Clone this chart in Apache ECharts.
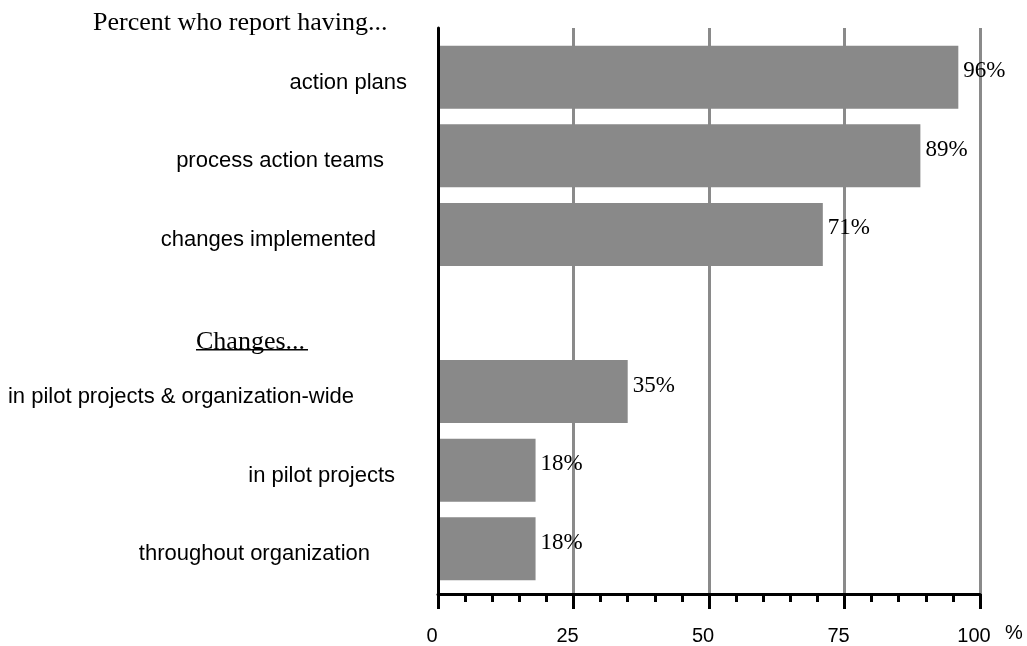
<style>html, body { margin: 0; padding: 0; background: #fff; }</style>
<script src="https://cdn.jsdelivr.net/npm/echarts@6/dist/echarts.min.js"></script>
<div id="main" style="width:1027px;height:646px;margin:0;padding:0;"></div>
<script>
    // chart data
    var categories = ['action plans', 'process action teams', 'changes implemented', '',
        'in pilot projects & organization-wide', 'in pilot projects', 'throughout organization'];
    var values = [96, 89, 71, null, 35, 18, 18];
    var axisMin = 0, axisMax = 100, axisStep = 25;
    var axisUnit = '%';
    var titleText = 'Percent who report having...';
    var groupText = 'Changes...';

    // how far each category label sits from the axis (the original is ragged)
    var labelGaps = [31, 54, 62, 0, 84, 43, 68];

    var rich = {};
    labelGaps.forEach(function (g, i) {
        rich['p' + i] = {
            fontFamily: '"Liberation Sans", Arial, sans-serif',
            fontSize: 22,
            color: '#000',
            padding: [11, g, 0, 0]
        };
    });

    var myChart = echarts.init(document.getElementById('main'));

    var option = {
        animation: false,
        backgroundColor: '#fff',
        grid: [
            // frame: axes + gridlines
            { left: 438, right: 47, top: 28, bottom: 52, containLabel: false, outerBoundsMode: 'none' },
            // bars
            { left: 438, right: 47, top: 38, bottom: 58, containLabel: false, outerBoundsMode: 'none' }
        ],
        xAxis: [{
            gridIndex: 0,
            type: 'value',
            min: axisMin,
            max: axisMax,
            interval: axisStep,
            axisLine: { show: true, onZero: false, lineStyle: { color: '#000', width: 3 } },
            axisTick: { show: true, length: 15, lineStyle: { color: '#000', width: 3 } },
            minorTick: { show: true, splitNumber: 5, length: 8, lineStyle: { color: '#000', width: 3 } },
            splitLine: { show: true, lineStyle: { color: '#8a8a8a', width: 3 } },
            axisLabel: {
                color: '#000',
                fontFamily: '"Liberation Sans", Arial, sans-serif',
                fontSize: 20,
                margin: 25,
                padding: [0, 12, 0, 0]
            }
        }, {
            gridIndex: 1,
            type: 'value',
            min: axisMin,
            max: axisMax,
            show: false
        }],
        yAxis: [{
            gridIndex: 0,
            type: 'value',
            min: 0,
            max: 1,
            z: 5,
            axisLine: { show: true, onZero: false, lineStyle: { color: '#000', width: 3 } },
            axisTick: { show: false },
            axisLabel: { show: false },
            splitLine: { show: false }
        }, {
            gridIndex: 1,
            type: 'category',
            inverse: true,
            data: categories,
            axisLine: { show: false },
            axisTick: { show: false },
            splitLine: { show: false },
            axisLabel: {
                margin: 0,
                formatter: function (v, i) {
                    return v ? '{p' + i + '|' + v + '}' : '';
                },
                rich: rich
            }
        }],
        series: [{
            type: 'bar',
            xAxisIndex: 1,
            yAxisIndex: 1,
            data: values,
            barWidth: 63,
            itemStyle: { color: '#898989' },
            label: {
                show: true,
                position: 'right',
                distance: 5,
                offset: [0, -6],
                formatter: '{c}%',
                color: '#000',
                fontFamily: '"Liberation Serif", "Times New Roman", serif',
                fontSize: 23
            }
        }],
        graphic: [{
            type: 'text',
            left: 93,
            top: 3,
            style: {
                text: titleText,
                fill: '#000',
                font: '26px "Liberation Serif", "Times New Roman", serif'
            }
        }, {
            type: 'text',
            left: 196,
            top: 322,
            style: {
                text: groupText,
                fill: '#000',
                font: '26px "Liberation Serif", "Times New Roman", serif'
            }
        }, {
            type: 'rect',
            left: 196,
            top: 349,
            shape: { width: 112, height: 1.5 },
            style: { fill: '#000' }
        }, {
            // unit label beside the last tick
            type: 'text',
            left: 1005,
            top: 616,
            style: {
                text: axisUnit,
                fill: '#000',
                font: '20px "Liberation Sans", Arial, sans-serif'
            }
        }]
    };

    myChart.setOption(option);

    window.onresize = function () {
        myChart.resize();
    }
</script>
